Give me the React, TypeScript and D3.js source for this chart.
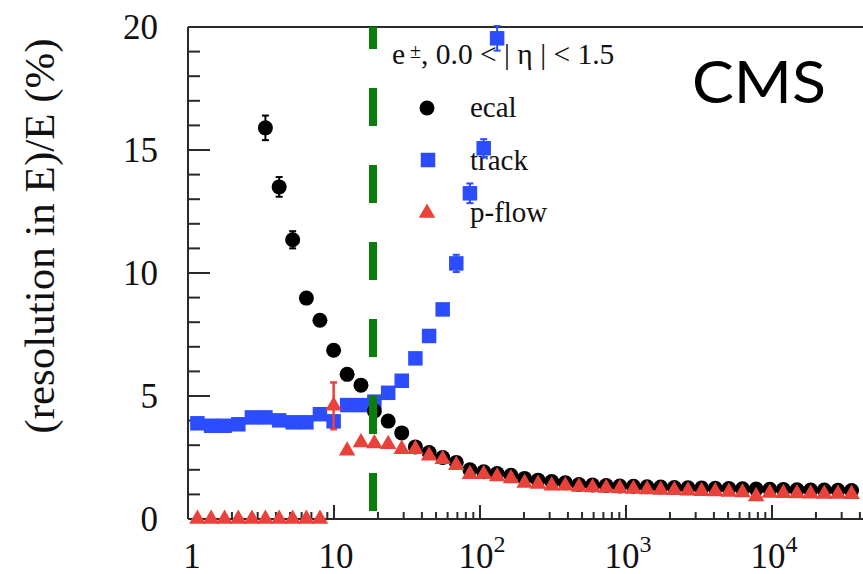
import React from "react";
import * as d3 from "d3";

// Electron energy (GeV) of each point
const energyGeV = [1.16, 1.44, 1.78, 2.21, 2.74, 3.39, 4.21, 5.21, 6.47, 8.01, 9.94, 12.3, 15.3, 18.9, 23.5, 29.1, 36.1, 44.8, 55.5, 68.8, 85.3, 106, 131, 163, 202, 250, 310, 384, 476, 590, 732, 907, 1125, 1395, 1729, 2144, 2658, 3296, 4086, 5066, 6281, 7787, 9656, 11970, 14840, 18400, 22820, 28290, 35080];

// ECAL resolution (%) – low-energy points are off scale
const ecalRes = [null, null, null, null, null, 15.9, 13.5, 11.35, 8.98, 8.08, 6.86, 5.88, 5.44, 4.39, 3.98, 3.5, 2.93, 2.7, 2.5, 2.3, 2.0, 1.92, 1.85, 1.78, 1.65, 1.58, 1.52, 1.47, 1.40, 1.38, 1.36, 1.34, 1.33, 1.31, 1.30, 1.28, 1.27, 1.26, 1.25, 1.24, 1.23, 1.22, 1.21, 1.20, 1.19, 1.18, 1.18, 1.17, 1.16];
const ecalErr = [0, 0, 0, 0, 0, 0.5, 0.4, 0.35, 0.2, 0, 0, 0, 0, 0, 0, 0, 0, 0, 0, 0, 0, 0, 0, 0, 0, 0, 0, 0, 0, 0, 0, 0, 0, 0, 0, 0, 0, 0, 0, 0, 0, 0, 0, 0, 0, 0, 0, 0, 0];

// Tracker resolution (%)
const trackRes = [3.89, 3.79, 3.79, 3.85, 4.13, 4.13, 4.01, 3.93, 3.93, 4.26, 3.97, 4.63, 4.63, 4.77, 5.13, 5.62, 6.53, 7.44, 8.52, 10.39, 13.24, 15.07, 19.54];
const trackErr = [0, 0, 0, 0, 0, 0, 0, 0, 0, 0, 0, 0, 0, 0, 0, 0, 0, 0, 0, 0.35, 0.4, 0.37, 0.5];

// Particle-flow combined resolution (%)
const pflowRes = [0, 0, 0, 0, 0, 0, 0, 0, 0, 0, 4.6, 2.77, 3.11, 3.07, 3.04, 2.84, 2.84, 2.57, 2.43, 2.19, 1.82, 1.82, 1.73, 1.65, 1.46, 1.42, 1.35, 1.35, 1.30, 1.28, 1.26, 1.24, 1.22, 1.20, 1.18, 1.17, 1.15, 1.13, 1.12, 1.10, 1.08, 0.92, 1.06, 1.05, 1.04, 1.03, 1.02, 1.02, 1.01];
const pflowErr = [0, 0, 0, 0, 0, 0, 0, 0, 0, 0, 0.95];

// Energy where ECAL and tracker resolutions cross
const crossoverGeV = 18.5;

const yTickValues = [0, 5, 10, 15, 20];
const xDecades = [0, 1, 2, 3, 4];

const W = 863;
const H = 574;
const X0 = 188;
const XDOM_MAX = 42000;
const Y0 = 519;
const Y1 = 27;

const BLACK = "#000000";
const BLUE = "#2b4dff";
const RED = "#e8423a";
const GREEN = "#0a7d0a";
const AXIS = "#2a2a2a";
const SERIF = "'Liberation Serif', 'Times New Roman', serif";

export default function App() {
  const x = d3.scaleLog().domain([1, XDOM_MAX]).range([X0, W]);
  const y = d3.scaleLinear().domain([0, 20]).range([Y0, Y1]);

  const circle = d3.symbol().type(d3.symbolCircle).size(Math.PI * 7.5 * 7.5)();
  const square = d3.symbol().type(d3.symbolSquare).size(14.5 * 14.5)();
  const triangle = d3.symbol().type(d3.symbolTriangle).size(118)();

  const xTicks = x.ticks().filter((t) => t >= 1 && t <= XDOM_MAX);
  const yMinor = d3.range(0, 21, 1);

  const errBar = (xv: number, v: number, e: number, color: string, key: string, w = 2) => {
    if (!e) return null;
    const px = x(xv);
    const cap = 3.5;
    return (
      <g key={key} stroke={color} strokeWidth={w}>
        <line x1={px} x2={px} y1={y(v - e)} y2={y(v + e)} />
        <line x1={px - cap} x2={px + cap} y1={y(v - e)} y2={y(v - e)} />
        <line x1={px - cap} x2={px + cap} y1={y(v + e)} y2={y(v + e)} />
      </g>
    );
  };

  return (
    <svg
      width={W}
      height={H}
      style={{ position: "absolute", left: 0, top: 0, background: "#fff" }}
      fontFamily={SERIF}
    >
      <rect x={0} y={0} width={W} height={H} fill="#fff" />

      {/* frame */}
      <line x1={X0} x2={W} y1={Y1} y2={Y1} stroke={AXIS} strokeWidth={2} />
      <line x1={X0} x2={X0} y1={Y1} y2={Y0} stroke={AXIS} strokeWidth={2} />
      <line x1={X0} x2={W} y1={Y0} y2={Y0} stroke={AXIS} strokeWidth={2} />

      {/* y ticks */}
      {yMinor.map((v) => (
        <line
          key={"yt" + v}
          x1={X0}
          x2={X0 + (v % 5 === 0 ? 22 : 12)}
          y1={y(v)}
          y2={y(v)}
          stroke={AXIS}
          strokeWidth={2}
        />
      ))}
      {yTickValues.map((v) => (
        <text key={"yl" + v} x={158} y={y(v) + 12} fontSize={35} textAnchor="end" fill="#111">
          {v}
        </text>
      ))}

      {/* x ticks */}
      {xTicks.map((t) => {
        const major = Math.abs(Math.log10(t) - Math.round(Math.log10(t))) < 1e-9;
        return (
          <line
            key={"xt" + t}
            x1={x(t)}
            x2={x(t)}
            y1={Y0}
            y2={Y0 - (major ? 14 : 7)}
            stroke={AXIS}
            strokeWidth={2}
          />
        );
      })}
      {xDecades.map((d) => {
        const px = x(Math.pow(10, d));
        if (d === 0)
          return (
            <text key="xl0" x={px + 4} y={568} fontSize={35} textAnchor="middle" fill="#111">
              1
            </text>
          );
        if (d === 1)
          return (
            <text key="xl1" x={px + 2} y={568} fontSize={35} textAnchor="middle" fill="#111">
              10
            </text>
          );
        return (
          <text key={"xl" + d} x={px + 2} y={568} fontSize={35} textAnchor="middle" fill="#111">
            10
            <tspan fontSize={24} dy={-16}>
              {d}
            </tspan>
          </text>
        );
      })}

      {/* y title */}
      <text
        transform={`translate(54, 236) rotate(-90)`}
        fontSize={43}
        textAnchor="middle"
        fill="#111"
      >
        (resolution in E)/E (%)
      </text>

      {/* legend */}
      <text x={392} y={64} fontSize={29.5} fill="#111">
        e
        <tspan fontSize={20} dy={-6}> ±</tspan>
        <tspan dy={6}>, 0.0 &lt; | η | &lt; 1.5</tspan>
      </text>
      <path d={circle} transform="translate(427,108)" fill={BLACK} />
      <text x={470} y={117} fontSize={29} fill="#111">ecal</text>
      <path d={square} transform="translate(428,160)" fill={BLUE} />
      <text x={470} y={170} fontSize={29} fill="#111">track</text>
      <path d={triangle} transform="translate(427,213)" fill={RED} />
      <text x={470} y={222} fontSize={29} fill="#111">p-flow</text>

      {/* tracker */}
      {trackRes.map((v, i) => errBar(energyGeV[i], v, trackErr[i] || 0, BLUE, "te" + i))}
      {trackRes.map((v, i) => (
        <path key={"t" + i} d={square} transform={`translate(${x(energyGeV[i])},${y(v)})`} fill={BLUE} />
      ))}

      {/* ecal */}
      {ecalRes.map((v, i) => (v == null ? null : errBar(energyGeV[i], v, ecalErr[i] || 0, BLACK, "ee" + i)))}
      {ecalRes.map((v, i) =>
        v == null ? null : (
          <path key={"e" + i} d={circle} transform={`translate(${x(energyGeV[i])},${y(v)})`} fill={BLACK} />
        )
      )}

      {/* particle flow */}
      {pflowRes.map((v, i) => errBar(energyGeV[i], v, pflowErr[i] || 0, RED, "pe" + i, 2.5))}
      {pflowRes.map((v, i) => (
        <path key={"p" + i} d={triangle} transform={`translate(${x(energyGeV[i])},${y(v)})`} fill={RED} />
      ))}

      {/* crossover line */}
      <line
        x1={x(crossoverGeV)}
        x2={x(crossoverGeV)}
        y1={y(20)}
        y2={y(0)}
        stroke={GREEN}
        strokeWidth={8}
        strokeDasharray="38 39"
        strokeDashoffset={16}
      />

      {/* experiment label */}
      <text
        x={692}
        y={103}
        fontSize={59}
        textLength={134}
        lengthAdjust="spacingAndGlyphs"
        fontFamily="Lato, 'Open Sans', sans-serif"
        fill="#000"
      >
        CMS
      </text>
    </svg>
  );
}
